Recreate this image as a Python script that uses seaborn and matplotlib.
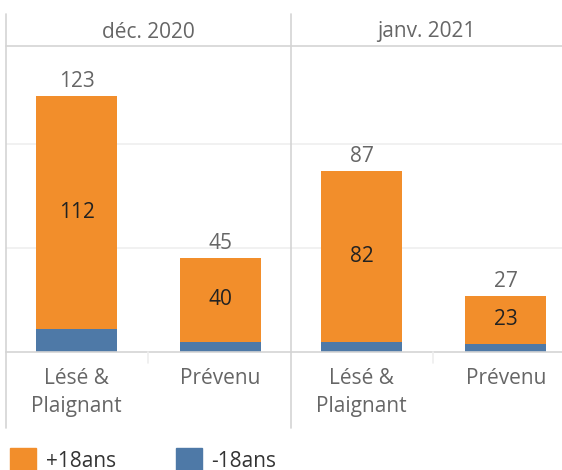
import seaborn as sns
from matplotlib import pyplot as plt
from matplotlib.lines import Line2D
from matplotlib.patches import Patch
import pandas as pd

# data
periods = ["déc. 2020", "janv. 2021"]
categories = ["Lésé &\nPlaignant", "Prévenu"]
plus18 = [112, 40, 82, 23]
minus18 = [11, 5, 5, 4]

ORANGE = "#F28E2B"
BLUE = "#4E79A7"
GREY = "#666666"
LINE = "#d4d4d4"
FS = 15

sns.set_style("white")
plt.rcParams['font.family'] = ['Open Sans', 'DejaVu Sans']

df = pd.DataFrame({
    "period": [p for p in periods for _ in categories],
    "category": categories * len(periods),
    "plus18": plus18,
    "minus18": minus18,
})
df["total"] = df["plus18"] + df["minus18"]

W, H = 562, 470
fig = plt.figure(figsize=(W / 100, H / 100), dpi=100)


def fx(px):
    return px / W


def fy(py):
    return 1 - py / H


panels = [(6, 291, (-0.49, 1.49)), (291, 562, (-0.49, 1.39))]
for (x0, x1, xlim), period in zip(panels, periods):
    ax = fig.add_axes([fx(x0), fy(352), fx(x1 - x0), fy(46) - fy(352)])
    sub = df[df["period"] == period]
    sns.barplot(data=sub, x="category", y="total", color=ORANGE, width=0.56,
                saturation=1, ax=ax, order=categories, linewidth=0)
    sns.barplot(data=sub, x="category", y="minus18", color=BLUE, width=0.56,
                saturation=1, ax=ax, order=categories, linewidth=0)
    ax.set_ylim(0, 147)
    ax.set_xlim(*xlim)
    ax.set_yticks([50, 100])
    ax.yaxis.grid(True, color="#efefef", lw=1.2)
    ax.set_axisbelow(True)
    ax.tick_params(axis="y", left=False, labelleft=False)
    ax.tick_params(axis="x", bottom=False, pad=8, labelsize=FS, labelcolor=GREY)
    ax.set_xticks(range(len(categories)))
    ax.set_xticklabels(categories, linespacing=1.45)
    ax.set_xlabel("")
    ax.set_ylabel("")
    for s in ["top", "left", "right"]:
        ax.spines[s].set_visible(False)
    ax.spines["bottom"].set_color(LINE)
    ax.spines["bottom"].set_linewidth(1.2)
    for i, row in enumerate(sub.itertuples()):
        ax.text(i, row.total + 2, str(row.total), ha="center", va="bottom",
                fontsize=FS, color=GREY)
        ax.text(i, row.minus18 + row.plus18 / 2, str(row.plus18), ha="center",
                va="center", fontsize=FS, color="#222222")
    fig.text(fx((x0 + x1) / 2), fy(32), period, ha="center", va="center",
             fontsize=FS, color=GREY)

# panel borders and header line
for xp in [6, 291]:
    fig.add_artist(Line2D([fx(xp), fx(xp)], [fy(14), fy(428)], color=LINE, lw=1.2))
fig.add_artist(Line2D([fx(6), fx(562)], [fy(46), fy(46)], color=LINE, lw=1.2))
for xp in [148, 433]:
    fig.add_artist(Line2D([fx(xp), fx(xp)], [fy(352), fy(363)], color="#eeeeee", lw=1.2))

handles = [Patch(color=ORANGE, label="+18ans"), Patch(color=BLUE, label="-18ans")]
fig.legend(handles=handles, loc="center left", bbox_to_anchor=(fx(6), fy(460)),
           ncol=2, frameon=False, fontsize=FS, handlelength=1.25, handleheight=1.25,
           handletextpad=0.45, columnspacing=2.9, labelcolor="#333333",
           borderaxespad=0, borderpad=0.2)

fig.savefig("out.png", dpi=100)
